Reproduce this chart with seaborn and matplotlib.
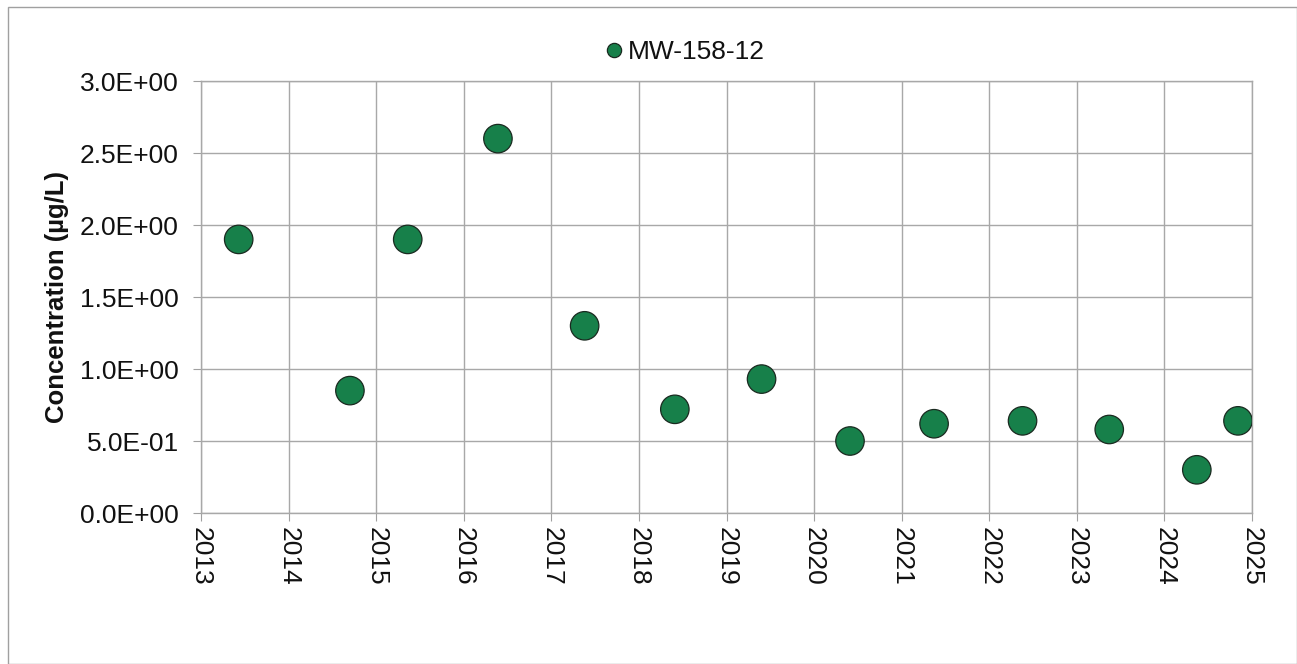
import matplotlib
matplotlib.use("Agg")
import matplotlib.pyplot as plt
import seaborn as sns
import pandas as pd
from matplotlib.patches import Rectangle
from matplotlib.ticker import FuncFormatter, MultipleLocator

years = [2013.43, 2014.70, 2015.36, 2016.39, 2017.38, 2018.41, 2019.40,
         2020.41, 2021.37, 2022.38, 2023.37, 2024.37, 2024.84]
conc = [1.90, 0.85, 1.90, 2.60, 1.30, 0.72, 0.93,
        0.50, 0.62, 0.64, 0.58, 0.30, 0.64]
series_name = "MW-158-12"
x_ticks = list(range(2013, 2026))

df = pd.DataFrame({"year": years, "conc": conc, "well": series_name})

sns.set_style("white")
plt.rcParams['font.family'] = ['Liberation Sans', 'DejaVu Sans']

fig = plt.figure(figsize=(12.97, 6.64), dpi=100)
ax = fig.add_axes([0.1550, 0.2274, 0.8103, 0.6506])

sns.scatterplot(data=df, x="year", y="conc", hue="well", palette=["#17804a"],
                s=420, edgecolor="#1a2a20", linewidth=0.9, ax=ax, zorder=3)

ax.set_xlim(2013, 2025)
ax.set_ylim(0, 3.0)
ax.set_xticks(x_ticks)
ax.set_xticklabels([str(t) for t in x_ticks], rotation=270, fontsize=19)
ax.yaxis.set_major_locator(MultipleLocator(0.5))
ax.yaxis.set_major_formatter(FuncFormatter(lambda v, p: f"{v:.1E}"))
ax.tick_params(axis='y', labelsize=19, length=6, color="#a0a0a0", direction='out', left=True, pad=10)
ax.tick_params(axis='x', length=6, color="#a0a0a0", direction='out', bottom=True, pad=4)
for lbl in ax.get_yticklabels():
    lbl.set_color("#111111")
for lbl in ax.get_xticklabels():
    lbl.set_color("#111111")
ax.grid(True, color="#a8a8a8", linewidth=1.0)
for sp in ax.spines.values():
    sp.set_color("#a8a8a8")
    sp.set_linewidth(1.0)
ax.set_xlabel("")
ax.set_ylabel("Concentration (µg/L)", fontsize=18.5, fontweight='bold', labelpad=8, color="#111111")

leg = ax.legend(loc='lower center', bbox_to_anchor=(0.452, 1.0), frameon=False,
                fontsize=19, handletextpad=-0.47, markerscale=0.5, borderaxespad=0.25)
for t in leg.get_texts():
    t.set_color("#111111")

fig.patches.append(Rectangle((8/1297, 0), 1 - 8/1297, 1 - 7/664, transform=fig.transFigure,
                             fill=False, edgecolor="#a0a0a0", linewidth=1.0))

fig.savefig("out.png", dpi=100)
